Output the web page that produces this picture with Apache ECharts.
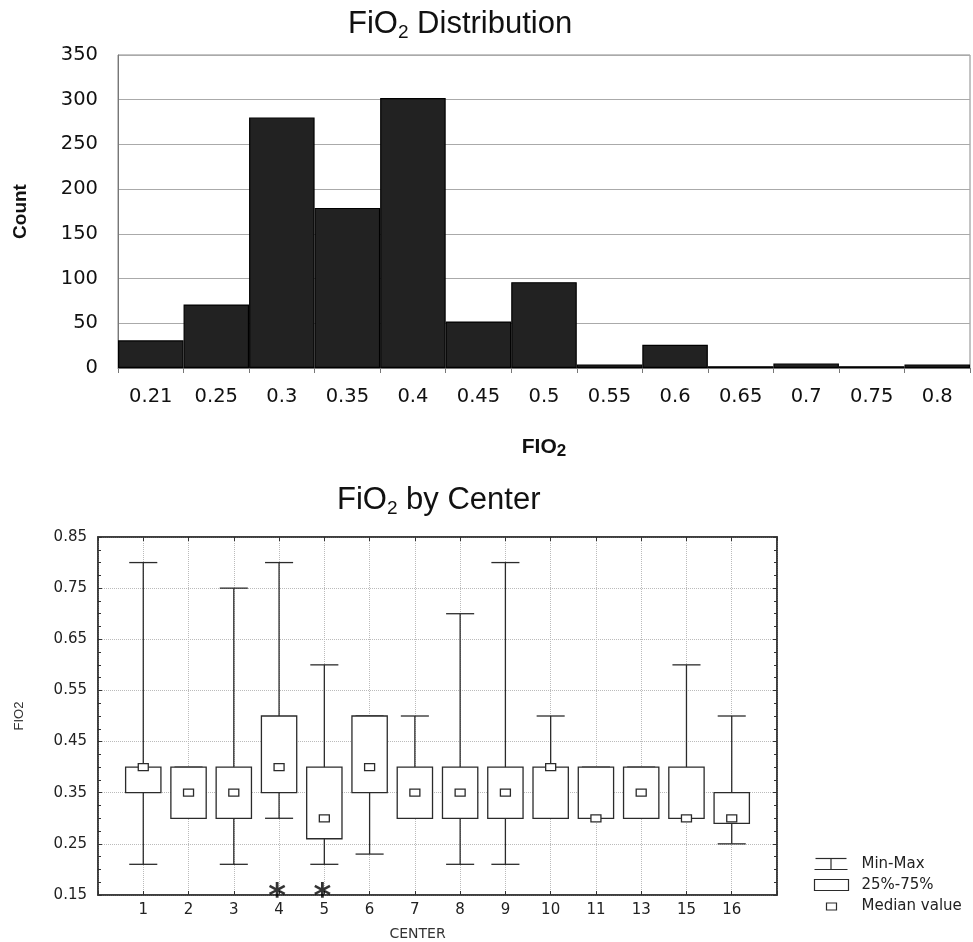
<!DOCTYPE html>
<html>
<head>
<meta charset="utf-8">
<title>FiO2 distribution and by center</title>
<script src="https://cdn.jsdelivr.net/npm/echarts@6/dist/echarts.min.js"></script>
<style>
  html, body { margin: 0; padding: 0; background: #fff; }
  #main { width: 973px; height: 942px; }
</style>
</head>
<body>
<div id="main"></div>
<script>
// histogram of FiO2 values
const fioBins = ['0.21', '0.25', '0.3', '0.35', '0.4', '0.45', '0.5', '0.55', '0.6', '0.65', '0.7', '0.75', '0.8'];
const fioCounts = [31, 71, 280, 179, 302, 52, 96, 4, 26, 2, 5, 2, 4];

// FiO2 by center (min / 25% / median / 75% / max)
const centers = ['1', '2', '3', '4', '5', '6', '7', '8', '9', '10', '11', '13', '15', '16'];
const fioMin    = [0.21, 0.30, 0.21, 0.30, 0.21, 0.23, 0.30, 0.21, 0.21, 0.30, 0.30, 0.30, 0.30, 0.25];
const fioQ1     = [0.35, 0.30, 0.30, 0.35, 0.26, 0.35, 0.30, 0.30, 0.30, 0.30, 0.30, 0.30, 0.30, 0.29];
const fioMedian = [0.40, 0.35, 0.35, 0.40, 0.30, 0.40, 0.35, 0.35, 0.35, 0.40, 0.30, 0.35, 0.30, 0.30];
const fioQ3     = [0.40, 0.40, 0.40, 0.50, 0.40, 0.50, 0.40, 0.40, 0.40, 0.40, 0.40, 0.40, 0.40, 0.35];
const fioMax    = [0.80, 0.40, 0.75, 0.80, 0.60, 0.50, 0.50, 0.70, 0.80, 0.50, 0.40, 0.40, 0.60, 0.50];
const flaggedCenters = ['4', '5'];

// half a slot of padding each side of the centers
const centerAxis = [''].concat(centers, ['']);

const boxData = centers.map((c, i) => [i + 1, fioMin[i], fioQ1[i], fioMedian[i], fioQ3[i], fioMax[i]]);
const starData = flaggedCenters.map(c => [centerAxis.indexOf(c), 0.15]);

const ink = '#2b2b2b';
const sans = 'Liberation Sans, Arial, sans-serif';
const wide = 'DejaVu Sans, Verdana, sans-serif';

function renderBox(params, api) {
    const x = api.value(0);
    const band = api.size([1, 0])[0];
    const boxW = band * 0.78, capW = band * 0.62;
    const pMin = api.coord([x, api.value(1)]);
    const pQ1 = api.coord([x, api.value(2)]);
    const pMed = api.coord([x, api.value(3)]);
    const pQ3 = api.coord([x, api.value(4)]);
    const pMax = api.coord([x, api.value(5)]);
    const cx = pMin[0];
    const line = { stroke: ink, lineWidth: 1.3 };
    return {
        type: 'group',
        children: [
            { type: 'line', shape: { x1: cx, y1: pMax[1], x2: cx, y2: pQ3[1] }, style: line },
            { type: 'line', shape: { x1: cx, y1: pQ1[1], x2: cx, y2: pMin[1] }, style: line },
            { type: 'line', shape: { x1: cx - capW / 2, y1: pMax[1], x2: cx + capW / 2, y2: pMax[1] }, style: line },
            { type: 'line', shape: { x1: cx - capW / 2, y1: pMin[1], x2: cx + capW / 2, y2: pMin[1] }, style: line },
            { type: 'rect', shape: { x: cx - boxW / 2, y: pQ3[1], width: boxW, height: pQ1[1] - pQ3[1] },
              style: { fill: '#fff', stroke: ink, lineWidth: 1.3 } },
            { type: 'rect', shape: { x: cx - 5, y: pMed[1] - 3.5, width: 10, height: 7 },
              style: { fill: '#fff', stroke: ink, lineWidth: 1.3 } }
        ]
    };
}

const chart = echarts.init(document.getElementById('main'));

const titleRich = {
    m: { fontSize: 31, fontWeight: 'normal', fontFamily: sans, color: '#111', lineHeight: 36 },
    s: { fontSize: 19, fontWeight: 'normal', fontFamily: sans, color: '#111', lineHeight: 20, verticalAlign: 'bottom' }
};

const option = {
    animation: false,
    backgroundColor: '#fff',
    title: [{
        text: '{m|FiO}{s|2}{m| Distribution}',
        left: 348, top: 6, padding: 0,
        textStyle: { fontWeight: 'normal', rich: titleRich }
    }, {
        text: '{m|FiO}{s|2}{m| by Center}',
        left: 337, top: 482, padding: 0,
        textStyle: { fontWeight: 'normal', rich: titleRich }
    }],
    grid: [
        { left: 118, top: 55, width: 852, height: 313, show: true, borderColor: '#888', borderWidth: 1 },
        { left: 98, top: 537, width: 679, height: 359, show: true, borderColor: '#333', borderWidth: 1.5 }
    ],
    xAxis: [{
        gridIndex: 0,
        type: 'category',
        data: fioBins,
        boundaryGap: true,
        axisLine: { lineStyle: { color: '#777' } },
        axisTick: { show: true, length: 5, lineStyle: { color: '#777' } },
        axisLabel: { interval: 0, fontSize: 19.5, fontFamily: wide, color: '#111', margin: 19 },
        name: '{b|FIO}{s|2}',
        nameLocation: 'middle',
        nameGap: 66,
        nameTextStyle: {
            rich: {
                b: { fontSize: 21, fontWeight: 'bold', fontFamily: sans, color: '#111', lineHeight: 26 },
                s: { fontSize: 17, fontWeight: 'bold', fontFamily: sans, color: '#111', lineHeight: 12, verticalAlign: 'bottom' }
            }
        }
    }, {
        gridIndex: 1,
        type: 'category',
        data: centerAxis,
        boundaryGap: false,
        axisLine: { lineStyle: { color: '#333', width: 1.5 } },
        axisTick: { show: true, inside: true, length: 4, lineStyle: { color: '#333' } },
        axisLabel: { interval: 0, fontSize: 15, fontFamily: wide, color: '#222', margin: 8 },
        splitLine: { show: true, interval: 0, lineStyle: { color: '#bbb', type: 'dotted' } },
        name: 'CENTER',
        nameLocation: 'middle',
        nameGap: 32,
        nameTextStyle: { fontSize: 14, fontFamily: wide, color: '#333', padding: [0, 40, 0, 0] }
    }, {
        gridIndex: 1,
        type: 'category',
        data: centerAxis,
        boundaryGap: false,
        position: 'top',
        axisLine: { lineStyle: { color: '#333', width: 1.5 } },
        axisTick: { show: true, inside: true, length: 4, lineStyle: { color: '#333' } },
        axisLabel: { show: false },
        splitLine: { show: false }
    }],
    yAxis: [{
        gridIndex: 0,
        type: 'value',
        min: 0, max: 350, interval: 50,
        axisLine: { show: true, lineStyle: { color: '#777' } },
        axisTick: { show: false },
        axisLabel: { fontSize: 19.5, fontFamily: wide, color: '#111', margin: 20 },
        splitLine: { lineStyle: { color: '#aaa' } },
        name: 'Count',
        nameLocation: 'middle',
        nameRotate: 90,
        nameGap: 88,
        nameTextStyle: { fontSize: 19, fontWeight: 'bold', fontFamily: sans, color: '#111' }
    }, {
        gridIndex: 1,
        type: 'value',
        min: 0.15, max: 0.85, interval: 0.1,
        axisLine: { show: true, lineStyle: { color: '#333', width: 1.5 } },
        axisTick: { show: true, inside: true, length: 4, lineStyle: { color: '#333' } },
        minorTick: { show: true, splitNumber: 4, length: 3, lineStyle: { color: '#333' } },
        axisLabel: { fontSize: 15, fontFamily: wide, color: '#222', margin: 11, formatter: v => v.toFixed(2) },
        splitLine: { lineStyle: { color: '#bbb', type: 'dotted' } },
        name: 'FIO2',
        nameLocation: 'middle',
        nameRotate: 90,
        nameGap: 72,
        nameTextStyle: { fontSize: 13, fontFamily: sans, color: '#333' }
    }, {
        gridIndex: 1,
        type: 'value',
        position: 'right',
        min: 0.15, max: 0.85, interval: 0.1,
        axisLine: { show: true, lineStyle: { color: '#333', width: 1.5 } },
        axisTick: { show: true, inside: true, length: 4, lineStyle: { color: '#333' } },
        minorTick: { show: true, splitNumber: 4, length: 3, lineStyle: { color: '#333' } },
        axisLabel: { show: false },
        splitLine: { show: false }
    }],
    series: [{
        name: 'Count',
        type: 'bar',
        xAxisIndex: 0, yAxisIndex: 0,
        data: fioCounts,
        barCategoryGap: '0%',
        itemStyle: { color: '#222', borderColor: '#000', borderWidth: 1.2 }
    }, {
        name: 'FiO2 by center',
        type: 'custom',
        xAxisIndex: 1, yAxisIndex: 1,
        data: boxData,
        encode: { x: 0, y: [1, 2, 3, 4, 5] },
        renderItem: renderBox,
        z: 5
    }, {
        name: 'flagged',
        type: 'scatter',
        xAxisIndex: 1, yAxisIndex: 1,
        data: starData,
        symbolSize: 1,
        itemStyle: { color: 'rgba(0,0,0,0)' },
        clip: false,
        z: 6,
        label: {
            show: true,
            position: 'inside',
            formatter: '*',
            fontSize: 34,
            fontWeight: 'bold',
            fontFamily: wide,
            color: '#000',
            offset: [-2, 3]
        }
    }],
    graphic: [{
        type: 'group',
        left: 812, top: 856,
        children: [
            { type: 'line', shape: { x1: 1, y1: 1, x2: 32, y2: 1 }, style: { stroke: ink, lineWidth: 1.2 } },
            { type: 'line', shape: { x1: 16.5, y1: 1, x2: 16.5, y2: 12 }, style: { stroke: ink, lineWidth: 1.2 } },
            { type: 'line', shape: { x1: 0, y1: 12, x2: 33, y2: 12 }, style: { stroke: ink, lineWidth: 1.2 } },
            { type: 'rect', shape: { x: 0, y: 22, width: 34, height: 11 }, style: { fill: '#fff', stroke: ink, lineWidth: 1.2 } },
            { type: 'rect', shape: { x: 12, y: 45.5, width: 10, height: 7 }, style: { fill: '#fff', stroke: ink, lineWidth: 1.2 } },
            { type: 'text', x: 47, y: 7, style: { text: 'Min-Max', font: '15px ' + wide, fill: '#222', verticalAlign: 'middle' } },
            { type: 'text', x: 47, y: 28, style: { text: '25%-75%', font: '15px ' + wide, fill: '#222', verticalAlign: 'middle' } },
            { type: 'text', x: 47, y: 49, style: { text: 'Median value', font: '15px ' + wide, fill: '#222', verticalAlign: 'middle' } }
        ]
    }]
};

chart.setOption(option);
</script>
</body>
</html>
